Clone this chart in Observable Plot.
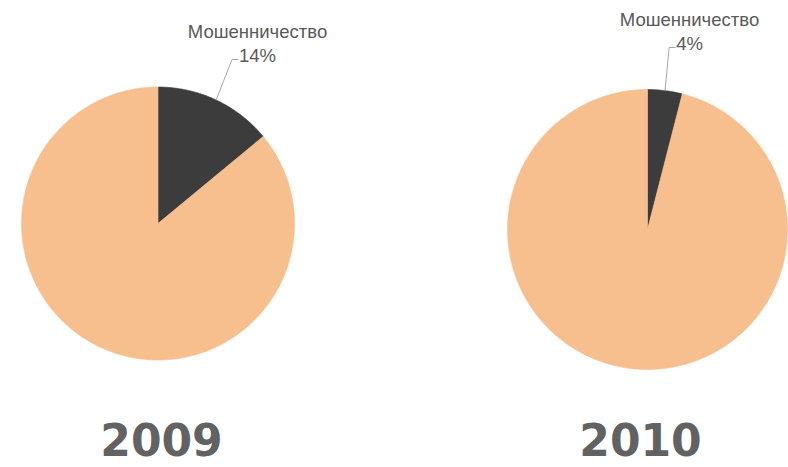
<!DOCTYPE html>
<html><head><meta charset="utf-8">
<script src="https://cdn.jsdelivr.net/npm/d3@7"></script>
<script src="https://cdn.jsdelivr.net/npm/@observablehq/plot@0.6"></script>
<style>html,body{margin:0;padding:0;background:#fff;overflow:hidden}</style>
</head><body><div id="chart"></div>
<script>
// ---- data ----
const years = ["2009", "2010"];
const categories = ["Мошенничество", "Прочее"];
const values2009 = [14, 86];
const values2010 = [4, 96];
const labelledCategories = ["Мошенничество"];

// ---- layout / style ----
const W = 788, H = 467;
const layout = [
  {cx: 157.5, cy: 223, r: 136.5, lx: 257, ly: 37, yx: 161, yy: 455},
  {cx: 647, cy: 229, r: 140, lx: 689, ly: 25, yx: 640, yy: 455}
];
const palette = ["#3c3c3c", "#f8bf8e"];
const labelFont = "Liberation Sans";
const labelSize = 18.5;
const lineGap = 24;

const series = [values2009, values2010];

const ctx = document.createElement("canvas").getContext("2d");
ctx.font = `${labelSize}px "${labelFont}"`;

const wedges = [], labels = [], leaders = [], yearLabels = [];
years.forEach((yr, i) => {
  const L = layout[i], vals = series[i];
  const total = d3.sum(vals);
  let acc = 0;
  vals.forEach((v, j) => {
    const a0 = acc / total * 2 * Math.PI, a1 = (acc + v) / total * 2 * Math.PI;
    acc += v;
    const n = Math.max(2, Math.ceil((a1 - a0) / (2 * Math.PI) * 360));
    const pts = [{x: L.cx, y: L.cy}];
    for (let k = 0; k <= n; k++) {
      const a = a0 + (a1 - a0) * k / n;
      pts.push({x: L.cx + L.r * Math.sin(a), y: L.cy - L.r * Math.cos(a)});
    }
    pts.push({x: L.cx, y: L.cy});
    wedges.push({pts, color: palette[j]});
    if (labelledCategories.includes(categories[j])) {
      const pct = Math.round(v / total * 100) + "%";
      labels.push({x: L.lx, y: L.ly, text: categories[j]});
      labels.push({x: L.lx, y: L.ly + lineGap, text: pct});
      const am = (a0 + a1) / 2;
      const wpct = ctx.measureText(pct).width;
      const ex = L.lx - wpct / 2 - 1, ey = L.ly + lineGap - 2;
      leaders.push([
        {x: L.cx + L.r * Math.sin(am), y: L.cy - L.r * Math.cos(am)},
        {x: ex - 6, y: ey},
        {x: ex, y: ey}
      ]);
    }
  });
  yearLabels.push({x: L.yx, y: L.yy, text: yr});
});

const marks = [];
wedges.forEach(w => marks.push(Plot.line(w.pts, {x: "x", y: "y", fill: w.color, stroke: w.color, strokeWidth: 0.6, curve: "linear"})));
leaders.forEach(l => marks.push(Plot.line(l, {x: "x", y: "y", stroke: "#a6a6a6", strokeWidth: 1})));
marks.push(Plot.text(labels, {x: "x", y: "y", text: "text", textAnchor: "middle", lineAnchor: "bottom",
  fontFamily: labelFont, fontSize: labelSize, fill: "#595959"}));
marks.push(Plot.text(yearLabels, {x: "x", y: "y", text: "text", textAnchor: "middle", lineAnchor: "bottom",
  fontFamily: "DejaVu Sans", fontWeight: "bold", fontSize: 44, fill: "#626262"}));

const chart = Plot.plot({
  width: W, height: H,
  margin: 0,
  x: {domain: [0, W], range: [0, W], axis: null},
  y: {domain: [0, H], range: [0, H], axis: null},
  style: {background: "#fff", overflow: "visible"},
  marks
});
document.getElementById("chart").appendChild(chart);
</script>
</body></html>
